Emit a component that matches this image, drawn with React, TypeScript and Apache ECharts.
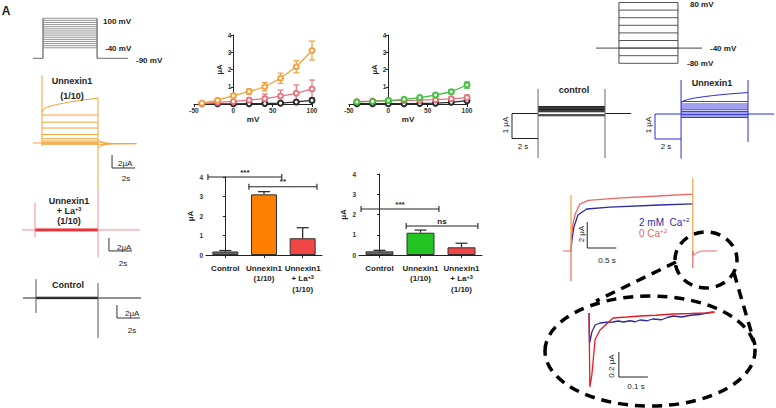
import React, { useEffect, useRef } from 'react';
import * as echarts from 'echarts';

const FONT = 'Liberation Sans, Arial, Helvetica, sans-serif';

// ---------------- I–V curves (μA vs mV) ----------------
const ivVoltages = [-40, -20, 0, 20, 40, 60, 80, 100];
const iv1Unnexin = [0.05, 0.22, 0.48, 0.72, 1.0, 1.49, 2.16, 3.1];
const iv1UnnexinErr = [0.03, 0.05, 0.08, 0.15, 0.25, 0.3, 0.35, 0.55];
const iv1La = [0.03, 0.1, 0.15, 0.23, 0.31, 0.46, 0.62, 0.87];
const iv1LaErr = [0.02, 0.03, 0.05, 0.1, 0.27, 0.35, 0.48, 0.52];
const iv1Control = [0.01, 0.01, 0.01, 0.02, 0.03, 0.05, 0.12, 0.21];
const iv2Unnexin = [0.12, 0.15, 0.2, 0.27, 0.37, 0.52, 0.71, 1.1];
const iv2UnnexinErr = [0.02, 0.02, 0.03, 0.05, 0.08, 0.1, 0.12, 0.18];
const iv2La = [0.14, 0.17, 0.2, 0.2, 0.22, 0.25, 0.3, 0.37];
const iv2LaErr = [0.02, 0.02, 0.03, 0.03, 0.04, 0.05, 0.1, 0.15];
const iv2Control = [0.02, 0.02, 0.02, 0.02, 0.03, 0.05, 0.1, 0.19];
const ivXTicks = [-50, 0, 50, 100];

// ---------------- Bar charts ----------------
const barCategories = ['Control', 'Unnexin1\n(1/10)', 'Unnexin1\n+ La+3\n(1/10)'];
const bar1Values = [0.18, 3.11, 0.86];
const bar1Err = [0.05, 0.14, 0.54];
const bar2Values = [0.18, 1.1, 0.38];
const bar2Err = [0.05, 0.13, 0.2];
const bar1Colors = ['#6a6a6a', '#ff8000', '#f24646'];
const bar2Colors = ['#6a6a6a', '#22c422', '#f24646'];
// [from category, to category, level (μA)]
const bar1Brackets = [[-0.45, 1.46, 4.0], [0.61, 2.37, 3.5]];
const bar1BracketLabels = ['***', '**'];
const bar2Brackets = [[-0.45, 1.45, 2.27], [0.65, 2.4, 1.43]];
const bar2BracketLabels = ['***', 'ns'];

// ---------------- Panel A: protocol (mV) & current traces (μA, s) ----------------
const protoAHold = -90;
const protoASteps = [100, 90, 80, 70, 60, 50, 40, 30, 20, 10, 0, -10, -20, -30, -40];
const protoATime = [-0.87, 0, 4.7, 7.39];

const unxTime = [-0.8, 0, 4.87, 8.2];
const unxLevels = [4.3, 3.2, 2.3, 1.3, 0.65, 0.3, 0.1, -0.05, -0.2];
const unxTopT = [0, 0.15, 0.4, 0.8, 1.5, 2.5, 3.5, 4.87];
const unxTopI = [4.7, 5.25, 5.5, 5.7, 6.0, 6.35, 6.6, 6.9];
const unxTailT = [4.87, 5.1, 5.5, 6.2, 8.2];
const unxTails = [
  [0.5, 0.2, 0.0, -0.1, -0.1],
  [0.2, 0.05, -0.05, -0.1, -0.1],
  [-0.3, -0.25, -0.15, -0.1, -0.1],
  [-0.8, -0.5, -0.25, -0.12, -0.1],
];
const unxSpikeOn = [10.4, -0.5];
const unxSpikeOff = [6.9, -7.2];
const unxScaleBar = [[6.09, -1.85], [6.09, -3.85], [8.09, -3.85]];

const laTime = [-1.13, 0, 5.48, 9.13];
const laLevels = [0.15, 0.08, 0.0, -0.08, -0.15];
const laSpikeOn = [4.2, -1.1];
const laSpikeOff = [6.2, -4.2];
const laScaleBar = [[6.43, -1.23], [6.43, -3.23], [8.43, -3.23]];

const ctlTime = [-1.13, 0, 5.39, 9.13];
const ctlLevels = [0.12, 0.0, -0.1];
const ctlSpikeOn = [2.9, -2.3];
const ctlSpikeOff = [2.3, -6.15];
const ctlScaleBar = [[7.04, -1.08], [7.04, -3.08], [9.04, -3.08]];

// ---------------- Panel B: protocol & traces ----------------
const protoBHold = -40;
const protoBSteps = [80, 60, 40, 20, 0, -20, -40, -60, -80];
const protoBTime = [-1.7, 0, 4.37, 6.15];

const ctlBTime = [-1.93, 0, 4.96, 6.9];
const ctlBLevels = [0.28, 0.25, 0.22, 0.19, 0.16, 0.13, 0.1, 0.07, -0.05, -0.09];
const ctlBSpike = [0.98, -1.78];
const ctlBScaleBar = [[-1.93, 0], [-1.93, -1], [0, -1]];

const blueBTime = [-1.93, 0, 4.96, 6.9];
const blueBLevels = [0.5, 0.4, 0.32, 0.24, 0.17, 0.1, 0.04, -0.02, -0.08, -0.14];
const blueBTopT = [0, 0.2, 0.5, 1.0, 1.8, 2.4, 3.5, 4.96];
const blueBTopI = [0.46, 0.53, 0.58, 0.64, 0.7, 0.74, 0.8, 0.86];
const blueBSpikeOn = [1.36, -1.78];
const blueBSpikeOff = [1.36, -1.12];
const blueBScaleBar = [[-1.93, 0], [-1.93, -1], [0, -1]];

// Ca2+ comparison (μA, s)
const caTime = [-0.14, 0, 2.1, 2.52];
const ca0T = [0, 0.01, 0.03, 0.07, 0.15, 0.3, 0.8, 1.5, 2.1];
const ca0I = [0, 1.2, 2.0, 2.8, 3.6, 3.9, 4.07, 4.23, 4.38];
const ca2T = [0, 0.015, 0.05, 0.12, 0.27, 0.67, 1.53, 2.1];
const ca2I = [0, 0.8, 1.85, 2.77, 3.23, 3.38, 3.54, 3.62];
const caTailT = [2.1, 2.12, 2.16, 2.25, 2.52];
const caTailI = [0, -0.35, -0.15, 0, 0];
const caOrangeOn = [4.3, 0];
const caPinkOn = [0, -2.3];
const caOrangeOff = [5.6, 0];
const caPinkOff = [0, -1.3];
const caScaleBar = [[0.28, 2.23], [0.28, 0.23], [0.78, 0.23]];

// Zoomed tail (μA, s)
const zRedT = [0, 0.003, 0.01, 0.021, 0.038, 0.083, 0.13, 0.176, 0.23, 0.29, 0.35, 0.407, 0.434];
const zRedI = [-0.008, -0.6, -0.5, -0.22, -0.144, -0.048, -0.04, -0.032, -0.026, -0.016, -0.012, -0.008, 0.0];
const zBlueT = [0, 0.002, 0.01, 0.021, 0.038, 0.06, 0.083, 0.1, 0.12, 0.14, 0.16, 0.176, 0.2, 0.22, 0.25, 0.27, 0.29, 0.32, 0.35, 0.38, 0.407, 0.428];
const zBlueI = [-0.008, -0.25, -0.16, -0.104, -0.088, -0.082, -0.08, -0.072, -0.08, -0.07, -0.078, -0.064, -0.07, -0.056, -0.062, -0.044, -0.032, -0.04, -0.026, -0.02, -0.008, 0.0];
const zScaleBar = [[0.103, -0.32], [0.103, -0.52], [0.203, -0.52]];

// ---------------- layout ----------------
const chartGrids = [
  { left: 194, top: 35, width: 118, height: 69 },
  { left: 349, top: 35, width: 118, height: 69 },
  { left: 206, top: 177, width: 116, height: 78 },
  { left: 359, top: 174, width: 123, height: 81 },
];
// left, top, width, height, xmin, xmax, ymin, ymax
const traceBoxes = [
  [33, 18.3, 95, 40, -0.87, 7.39, -90, 100],
  [30.5, 75.4, 105.8, 115, -1.0, 8.2, -7.3, 10.4],
  [22, 189, 118, 68.9, -1.13, 9.13, -4.3, 6.3],
  [23, 278.5, 118, 59.8, -1.13, 9.13, -6.2, 3.0],
  [596, 2.5, 106, 60.8, -1.7, 6.15, -80, 80],
  [512, 87.5, 120, 71, -1.93, 6.96, -1.8, 1.04],
  [655, 80, 120, 79, -1.93, 6.96, -1.8, 1.36],
  [559.4, 178.2, 162.4, 111.8, -0.2, 2.6, -3.0, 5.6],
  [580.3, 304.5, 139.2, 82.5, -0.03, 0.45, -0.6, 0.06],
];

function zip(a: number[], b: number[]) {
  return a.map((v, i) => [v, b[i]]);
}

function buildOption() {
  const series: any[] = [];
  const line = (g: number, pts: number[][], color: string, width = 1, z = 3) => {
    series.push({
      type: 'line', xAxisIndex: g, yAxisIndex: g, data: pts, symbol: 'none', silent: true,
      lineStyle: { color, width }, z, clip: false,
    });
  };

  // ---- IV charts ----
  const ivErr = (g: number, vals: number[], errs: number[], color: string) => {
    series.push({
      type: 'custom', xAxisIndex: g, yAxisIndex: g, silent: true, z: 2, clip: false,
      data: ivVoltages.map((v, i) => [v, vals[i], errs[i]]),
      encode: { x: 0, y: 1 },
      renderItem: (p: any, api: any) => {
        const x = api.value(0), y = api.value(1), e = api.value(2);
        const t = api.coord([x, y + e]);
        const b = api.coord([x, Math.max(0, y - e)]);
        const st = { stroke: color, lineWidth: 1.2 };
        return {
          type: 'group', children: [
            { type: 'line', shape: { x1: t[0], y1: t[1], x2: b[0], y2: b[1] }, style: st },
            { type: 'line', shape: { x1: t[0] - 3, y1: t[1], x2: t[0] + 3, y2: t[1] }, style: st },
            { type: 'line', shape: { x1: b[0] - 3, y1: b[1], x2: b[0] + 3, y2: b[1] }, style: st },
          ],
        };
      },
    });
  };
  const ivLine = (g: number, vals: number[], color: string) => {
    series.push({
      type: 'line', xAxisIndex: g, yAxisIndex: g, data: zip(ivVoltages, vals),
      symbol: 'emptyCircle', symbolSize: 5, silent: true, z: 4,
      lineStyle: { color, width: 1.3 }, itemStyle: { color, borderWidth: 1.3 },
    });
  };
  ivErr(0, iv1Unnexin, iv1UnnexinErr, '#f2a03d');
  ivErr(0, iv1La, iv1LaErr, '#e9737d');
  ivLine(0, iv1Control, '#2b2b2b');
  ivLine(0, iv1La, '#e9737d');
  ivLine(0, iv1Unnexin, '#f2a03d');
  ivErr(1, iv2Unnexin, iv2UnnexinErr, '#3cc23c');
  ivErr(1, iv2La, iv2LaErr, '#e9737d');
  ivLine(1, iv2Control, '#2b2b2b');
  ivLine(1, iv2La, '#e9737d');
  ivLine(1, iv2Unnexin, '#3cc23c');

  // ---- Bars ----
  const bars = (g: number, xb: number, vals: number[], errs: number[], colors: string[], width: number,
    brackets: number[][], labels: string[]) => {
    series.push({
      type: 'bar', xAxisIndex: g, yAxisIndex: g, barWidth: width, silent: true, z: 2,
      data: vals.map((v, i) => ({ value: v, itemStyle: { color: colors[i], borderColor: '#333', borderWidth: 1 } })),
    });
    series.push({
      type: 'custom', xAxisIndex: g, yAxisIndex: g, silent: true, z: 1, clip: false,
      data: vals.map((v, i) => [i, v, errs[i]]), encode: { x: 0, y: 1 },
      renderItem: (p: any, api: any) => {
        const i = api.value(0), y = api.value(1), e = api.value(2);
        const t = api.coord([i, y + e]);
        const b = api.coord([i, y]);
        const st = { stroke: '#333', lineWidth: 1.3 };
        return {
          type: 'group', children: [
            { type: 'line', shape: { x1: t[0], y1: t[1], x2: b[0], y2: b[1] }, style: st },
            { type: 'line', shape: { x1: t[0] - 6, y1: t[1], x2: t[0] + 6, y2: t[1] }, style: st },
          ],
        };
      },
    });
    series.push({
      type: 'custom', xAxisIndex: xb, yAxisIndex: g, silent: true, z: 5, clip: false,
      data: brackets, encode: { x: [0, 1], y: 2 },
      renderItem: (p: any, api: any) => {
        const a = api.coord([api.value(0), api.value(2)]);
        const b = api.coord([api.value(1), api.value(2)]);
        const st = { stroke: '#222', lineWidth: 1.1 };
        return {
          type: 'group', children: [
            { type: 'line', shape: { x1: a[0], y1: a[1], x2: b[0], y2: b[1] }, style: st },
            { type: 'line', shape: { x1: a[0], y1: a[1] - 3, x2: a[0], y2: a[1] + 3 }, style: st },
            { type: 'line', shape: { x1: b[0], y1: b[1] - 3, x2: b[0], y2: b[1] + 3 }, style: st },
            {
              type: 'text', x: (a[0] + b[0]) / 2, y: a[1] - 1,
              style: {
                text: labels[p.dataIndex], align: 'center', verticalAlign: 'bottom',
                textAlign: 'center', textVerticalAlign: 'bottom',
                font: `bold 8px ${FONT}`, fill: '#222',
              },
            },
          ],
        };
      },
    });
  };
  bars(2, 13, bar1Values, bar1Err, bar1Colors, 26, bar1Brackets, bar1BracketLabels);
  bars(3, 14, bar2Values, bar2Err, bar2Colors, 28, bar2Brackets, bar2BracketLabels);

  // ---- Panel A protocol ----
  const pA = protoATime;
  const gA = '#6b6b6b';
  line(4, [[pA[0], protoAHold], [pA[1], protoAHold]], gA, 1);
  line(4, [[pA[2], protoAHold], [pA[3], protoAHold]], gA, 1);
  line(4, [[pA[1], protoAHold], [pA[1], protoASteps[0]]], '#444', 1);
  line(4, [[pA[2], protoAHold], [pA[2], protoASteps[0]]], '#444', 1);
  protoASteps.forEach((v) => line(4, [[pA[1], v], [pA[2], v]], '#777', 0.8));

  // ---- Unnexin1 traces (orange) ----
  const OR = '#f2a33a';
  line(5, [[unxTime[0], 0], [unxTime[1], 0]], OR, 1);
  unxLevels.forEach((v) => line(5, [[unxTime[1], v], [unxTime[2], v]], OR, 1));
  line(5, zip(unxTopT, unxTopI), OR, 1);
  unxTails.forEach((tl) => line(5, zip(unxTailT, tl), OR, 1));
  line(5, [[unxTime[1], unxSpikeOn[0]], [unxTime[1], unxSpikeOn[1]]], OR, 1);
  line(5, [[unxTime[2], unxSpikeOff[0]], [unxTime[2], unxSpikeOff[1]]], OR, 1);
  line(5, unxScaleBar, '#333', 1);

  // ---- Unnexin1 + La (pink) ----
  line(6, [[laTime[0], 0], [laTime[3], 0]], '#f58a90', 1);
  laLevels.forEach((v) => line(6, [[laTime[1], v], [laTime[2], v]], '#e8323c', 1));
  line(6, [[laTime[1], laSpikeOn[0]], [laTime[1], laSpikeOn[1]]], '#f58a90', 1);
  line(6, [[laTime[2], laSpikeOff[0]], [laTime[2], laSpikeOff[1]]], '#f58a90', 1);
  line(6, laScaleBar, '#333', 1);

  // ---- Control (black) ----
  line(7, [[ctlTime[0], 0], [ctlTime[3], 0]], '#222', 1);
  ctlLevels.forEach((v) => line(7, [[ctlTime[1], v], [ctlTime[2], v]], '#222', 1));
  line(7, [[ctlTime[1], ctlSpikeOn[0]], [ctlTime[1], ctlSpikeOn[1]]], '#555', 1);
  line(7, [[ctlTime[2], ctlSpikeOff[0]], [ctlTime[2], ctlSpikeOff[1]]], '#555', 1);
  line(7, ctlScaleBar, '#333', 1);

  // ---- Panel B protocol ----
  const pB = protoBTime;
  line(8, [[pB[0], protoBHold], [pB[3], protoBHold]], '#444', 1);
  line(8, [[pB[1], protoBSteps[8]], [pB[1], protoBSteps[0]]], '#444', 1);
  line(8, [[pB[2], protoBSteps[8]], [pB[2], protoBSteps[0]]], '#444', 1);
  protoBSteps.forEach((v) => line(8, [[pB[1], v], [pB[2], v]], '#444', 0.9));

  // ---- control B ----
  line(9, [[ctlBTime[0], 0], [ctlBTime[1], 0]], '#222', 1);
  line(9, [[ctlBTime[2], 0], [ctlBTime[3], 0]], '#222', 1);
  ctlBLevels.forEach((v) => line(9, [[ctlBTime[1], v], [ctlBTime[2], v]], '#222', 1));
  line(9, [[ctlBTime[1], ctlBSpike[0]], [ctlBTime[1], ctlBSpike[1]]], '#666', 1);
  line(9, [[ctlBTime[2], ctlBSpike[0]], [ctlBTime[2], ctlBSpike[1]]], '#666', 1);
  line(9, ctlBScaleBar, '#222', 1);

  // ---- Unnexin1 B (blue) ----
  const BL = '#2b2bd6';
  line(10, [[blueBTime[0], 0], [blueBTime[1], 0]], BL, 1);
  line(10, [[blueBTime[2], 0], [blueBTime[3], 0]], BL, 1);
  blueBLevels.forEach((v) => line(10, [[blueBTime[1], v], [blueBTime[2], v]], BL, 0.9));
  line(10, zip(blueBTopT, blueBTopI), BL, 1);
  line(10, [[blueBTime[1], blueBSpikeOn[0]], [blueBTime[1], blueBSpikeOn[1]]], BL, 1);
  line(10, [[blueBTime[2], blueBSpikeOff[0]], [blueBTime[2], blueBSpikeOff[1]]], BL, 1);
  line(10, blueBScaleBar, BL, 1);

  // ---- Ca panel ----
  const RD = '#f06464';
  const NV = '#2c2ca0';
  const ORc = '#f0a040';
  line(11, [[caTime[0], 0], [caTime[1], 0]], RD, 1);
  line(11, zip(caTailT, caTailI), RD, 1);
  line(11, zip(ca2T, ca2I), NV, 1.3);
  line(11, zip(ca0T, ca0I), RD, 1.3);
  line(11, [[caTime[1], caOrangeOn[0]], [caTime[1], caOrangeOn[1]]], ORc, 1.2, 4);
  line(11, [[caTime[1], caPinkOn[0]], [caTime[1], caPinkOn[1]]], RD, 1.2, 4);
  line(11, [[caTime[2], caOrangeOff[0]], [caTime[2], caOrangeOff[1]]], ORc, 1.2, 4);
  line(11, [[caTime[2], caPinkOff[0]], [caTime[2], caPinkOff[1]]], RD, 1.2, 4);
  line(11, caScaleBar, '#222', 1);

  // ---- zoomed ----
  line(12, zip(zBlueT, zBlueI), '#2a2a9a', 1.3);
  line(12, zip(zRedT, zRedI), '#e81c24', 1.3);
  line(12, zScaleBar, '#222', 1);

  // ---- axes ----
  const axisCol = '#222';
  const grid: any[] = chartGrids.map((g) => ({ ...g }));
  traceBoxes.forEach((b) => grid.push({ left: b[0], top: b[1], width: b[2], height: b[3] }));

  const ivX = (gi: number) => ({
    type: 'value', gridIndex: gi, min: ivXTicks[0], max: ivXTicks[ivXTicks.length - 1], interval: 50,
    name: 'mV', nameLocation: 'middle', nameGap: 11,
    nameTextStyle: { fontWeight: 'bold', fontSize: 8, color: '#222', fontFamily: FONT },
    axisLine: { lineStyle: { color: axisCol, width: 1 } },
    axisTick: { length: 3, lineStyle: { color: axisCol } },
    axisLabel: { fontSize: 6.5, fontWeight: 'bold', color: '#333', margin: 3, fontFamily: FONT },
    splitLine: { show: false },
  });
  // y axis drawn at x = 0 mV: shift it inward by the pixel distance from -50 to 0
  const ivY = (gi: number) => {
    const w = chartGrids[gi].width;
    const x0 = ivXTicks[0];
    const x1 = ivXTicks[ivXTicks.length - 1];
    const shift = ((0 - x0) / (x1 - x0)) * w;
    return {
      type: 'value', gridIndex: gi, min: 0, max: 4, interval: 1, offset: -shift,
      name: 'μA', nameLocation: 'middle', nameRotate: 90, nameGap: 5,
      nameTextStyle: { fontWeight: 'bold', fontSize: 7.5, color: '#222', fontFamily: FONT },
      axisLine: { show: true, onZero: false, lineStyle: { color: axisCol, width: 1 } },
      axisTick: { show: true, length: 2.5, lineStyle: { color: axisCol } },
      axisLabel: { fontSize: 6.5, fontWeight: 'bold', color: '#333', margin: 2, fontFamily: FONT,
        formatter: (v: number) => (v === 0 ? '' : String(v)) },
      splitLine: { show: false },
    };
  };
  const barX = (gi: number) => ({
    type: 'category', gridIndex: gi, data: barCategories,
    axisLine: { lineStyle: { color: axisCol, width: 1 } },
    axisTick: { show: true, alignWithLabel: true, length: 3, lineStyle: { color: axisCol } },
    axisLabel: {
      margin: 8, interval: 0, fontFamily: FONT,
      formatter: (v: string) => v.split('\n').map((l) => {
        const m = l.match(/^(\+ La)(\+3)$/);
        return m ? `{b|${m[1]}}{s|${m[2]}}` : `{b|${l}}`;
      }).join('\n'),
      rich: {
        b: { fontSize: 8, fontWeight: 'bold', color: '#222', lineHeight: 10.5, fontFamily: FONT },
        s: { fontSize: 5.5, fontWeight: 'bold', color: '#222', lineHeight: 10.5, verticalAlign: 'top', padding: [0, 0, 5, 0], fontFamily: FONT },
      },
    },
    splitLine: { show: false },
  });
  const barY = (gi: number, gap: number) => ({
    type: 'value', gridIndex: gi, min: 0, max: 4, interval: 1,
    name: 'μA', nameLocation: 'middle', nameRotate: 90, nameGap: gap,
    nameTextStyle: { fontWeight: 'bold', fontSize: 8, color: '#222', fontFamily: FONT },
    axisLine: { show: true, lineStyle: { color: axisCol, width: 1 } },
    axisTick: { show: true, length: 2.5, lineStyle: { color: axisCol } },
    axisLabel: { fontSize: 6.5, fontWeight: 'bold', color: '#333', margin: 3, fontFamily: FONT },
    splitLine: { show: false },
  });

  const xAxis: any[] = [ivX(0), ivX(1), barX(2), barX(3)];
  const yAxis: any[] = [ivY(0), ivY(1), barY(2, 12), barY(3, 12)];
  traceBoxes.forEach((b, k) => {
    xAxis.push({ type: 'value', gridIndex: 4 + k, min: b[4], max: b[5], show: false, splitLine: { show: false } });
    yAxis.push({ type: 'value', gridIndex: 4 + k, min: b[6], max: b[7], show: false, splitLine: { show: false } });
  });
  xAxis.push({ type: 'value', gridIndex: 2, min: -0.5, max: 2.5, show: false, splitLine: { show: false } });
  xAxis.push({ type: 'value', gridIndex: 3, min: -0.5, max: 2.5, show: false, splitLine: { show: false } });

  // ---- texts & annotations ----
  const txt = (text: string, x: number, y: number, size: number, opts: any = {}) => ({
    type: 'text', x, y, rotation: opts.rot || 0, silent: true, z: 10,
    style: {
      text, x: 0, y: 0, font: `${opts.bold ? 'bold ' : ''}${size}px ${FONT}`, fill: opts.color || '#222',
      align: opts.align || 'center', verticalAlign: 'middle', textAlign: opts.align || 'center', textVerticalAlign: 'middle',
      rich: opts.rich,
    },
  });
  const supRich = (color: string, size: number, bold: boolean) => ({
    n: { fontSize: size, fontWeight: bold ? 'bold' : 'normal', fill: color, color, fontFamily: FONT },
    s: { fontSize: size * 0.62, fontWeight: bold ? 'bold' : 'normal', fill: color, color, fontFamily: FONT, verticalAlign: 'top', padding: [0, 0, 5, 0] },
  });
  const dash = { stroke: '#000', lineWidth: 3.5, lineDash: [10, 7], fill: 'none' };

  const graphic: any[] = [
    txt('A', 6, 11, 12, { bold: true }),
    txt('100 mV', 103, 21, 8, { bold: true, align: 'left' }),
    txt('-40 mV', 105, 48, 8, { bold: true, align: 'left' }),
    txt('-90 mV', 136, 60, 8, { bold: true, align: 'left' }),
    txt('Unnexin1', 72, 81, 9, { bold: true }),
    txt('(1/10)', 72, 96, 9, { bold: true }),
    txt('2μA', 118, 163, 8, { align: 'left' }),
    txt('2s', 126, 178, 8),
    txt('Unnexin1', 69, 201, 9, { bold: true }),
    txt('{n|+ La}{s|+3}', 69, 211, 9, { rich: supRich('#222', 9, true) }),
    txt('(1/10)', 69, 221, 9, { bold: true }),
    txt('2μA', 117, 247, 8, { align: 'left' }),
    txt('2s', 123, 263, 8),
    txt('Control', 68, 285, 9, { bold: true }),
    txt('2μA', 125, 313, 8, { align: 'left' }),
    txt('2s', 132, 330, 8),
    txt('80 mV', 690, 4, 8, { bold: true, align: 'left' }),
    txt('-40 mV', 710, 48, 8, { bold: true, align: 'left' }),
    txt('-80 mV', 687, 63, 8, { bold: true, align: 'left' }),
    txt('control', 574, 90, 9, { bold: true }),
    txt('Unnexin1', 712, 83, 9, { bold: true }),
    txt('1 μA', 505, 125, 8, { rot: Math.PI / 2 }),
    txt('2 s', 523, 146, 8),
    txt('1 μA', 648, 125, 8, { rot: Math.PI / 2 }),
    txt('2 s', 666, 146, 8),
    txt('2 μA', 581, 234, 8, { rot: Math.PI / 2 }),
    txt('0.5 s', 607, 260, 8),
    txt('{n|2 mM  Ca}{s|+2}', 639, 222, 10, { align: 'left', rich: supRich('#2c2ca0', 10, false) }),
    txt('{n|0 Ca}{s|+2}', 639, 233, 10, { align: 'left', rich: supRich('#f06464', 10, false) }),
    txt('0.2 μA', 611, 366, 8, { rot: Math.PI / 2 }),
    txt('0.1 s', 636, 386, 8),
    { type: 'ellipse', silent: true, z: 1, shape: { cx: 706, cy: 260, rx: 31, ry: 28 }, style: dash },
    { type: 'ellipse', silent: true, z: 1, shape: { cx: 650, cy: 351, rx: 105, ry: 55 }, style: dash },
    { type: 'line', silent: true, z: 1, shape: { x1: 676, y1: 262, x2: 596, y2: 301 }, style: dash },
    { type: 'line', silent: true, z: 1, shape: { x1: 734, y1: 273, x2: 755, y2: 345 }, style: dash },
  ];

  return {
    animation: false,
    backgroundColor: '#ffffff',
    textStyle: { fontFamily: FONT },
    grid,
    xAxis,
    yAxis,
    series,
    graphic,
  };
}

export default function App() {
  const ref = useRef<HTMLDivElement>(null);
  useEffect(() => {
    const chart = echarts.init(ref.current as HTMLDivElement, null, { renderer: 'svg' });
    chart.setOption(buildOption() as any);
    return () => chart.dispose();
  }, []);
  return (
    <div
      ref={ref}
      style={{ position: 'fixed', left: 0, top: 0, width: 776, height: 408, background: '#fff' }}
    />
  );
}
